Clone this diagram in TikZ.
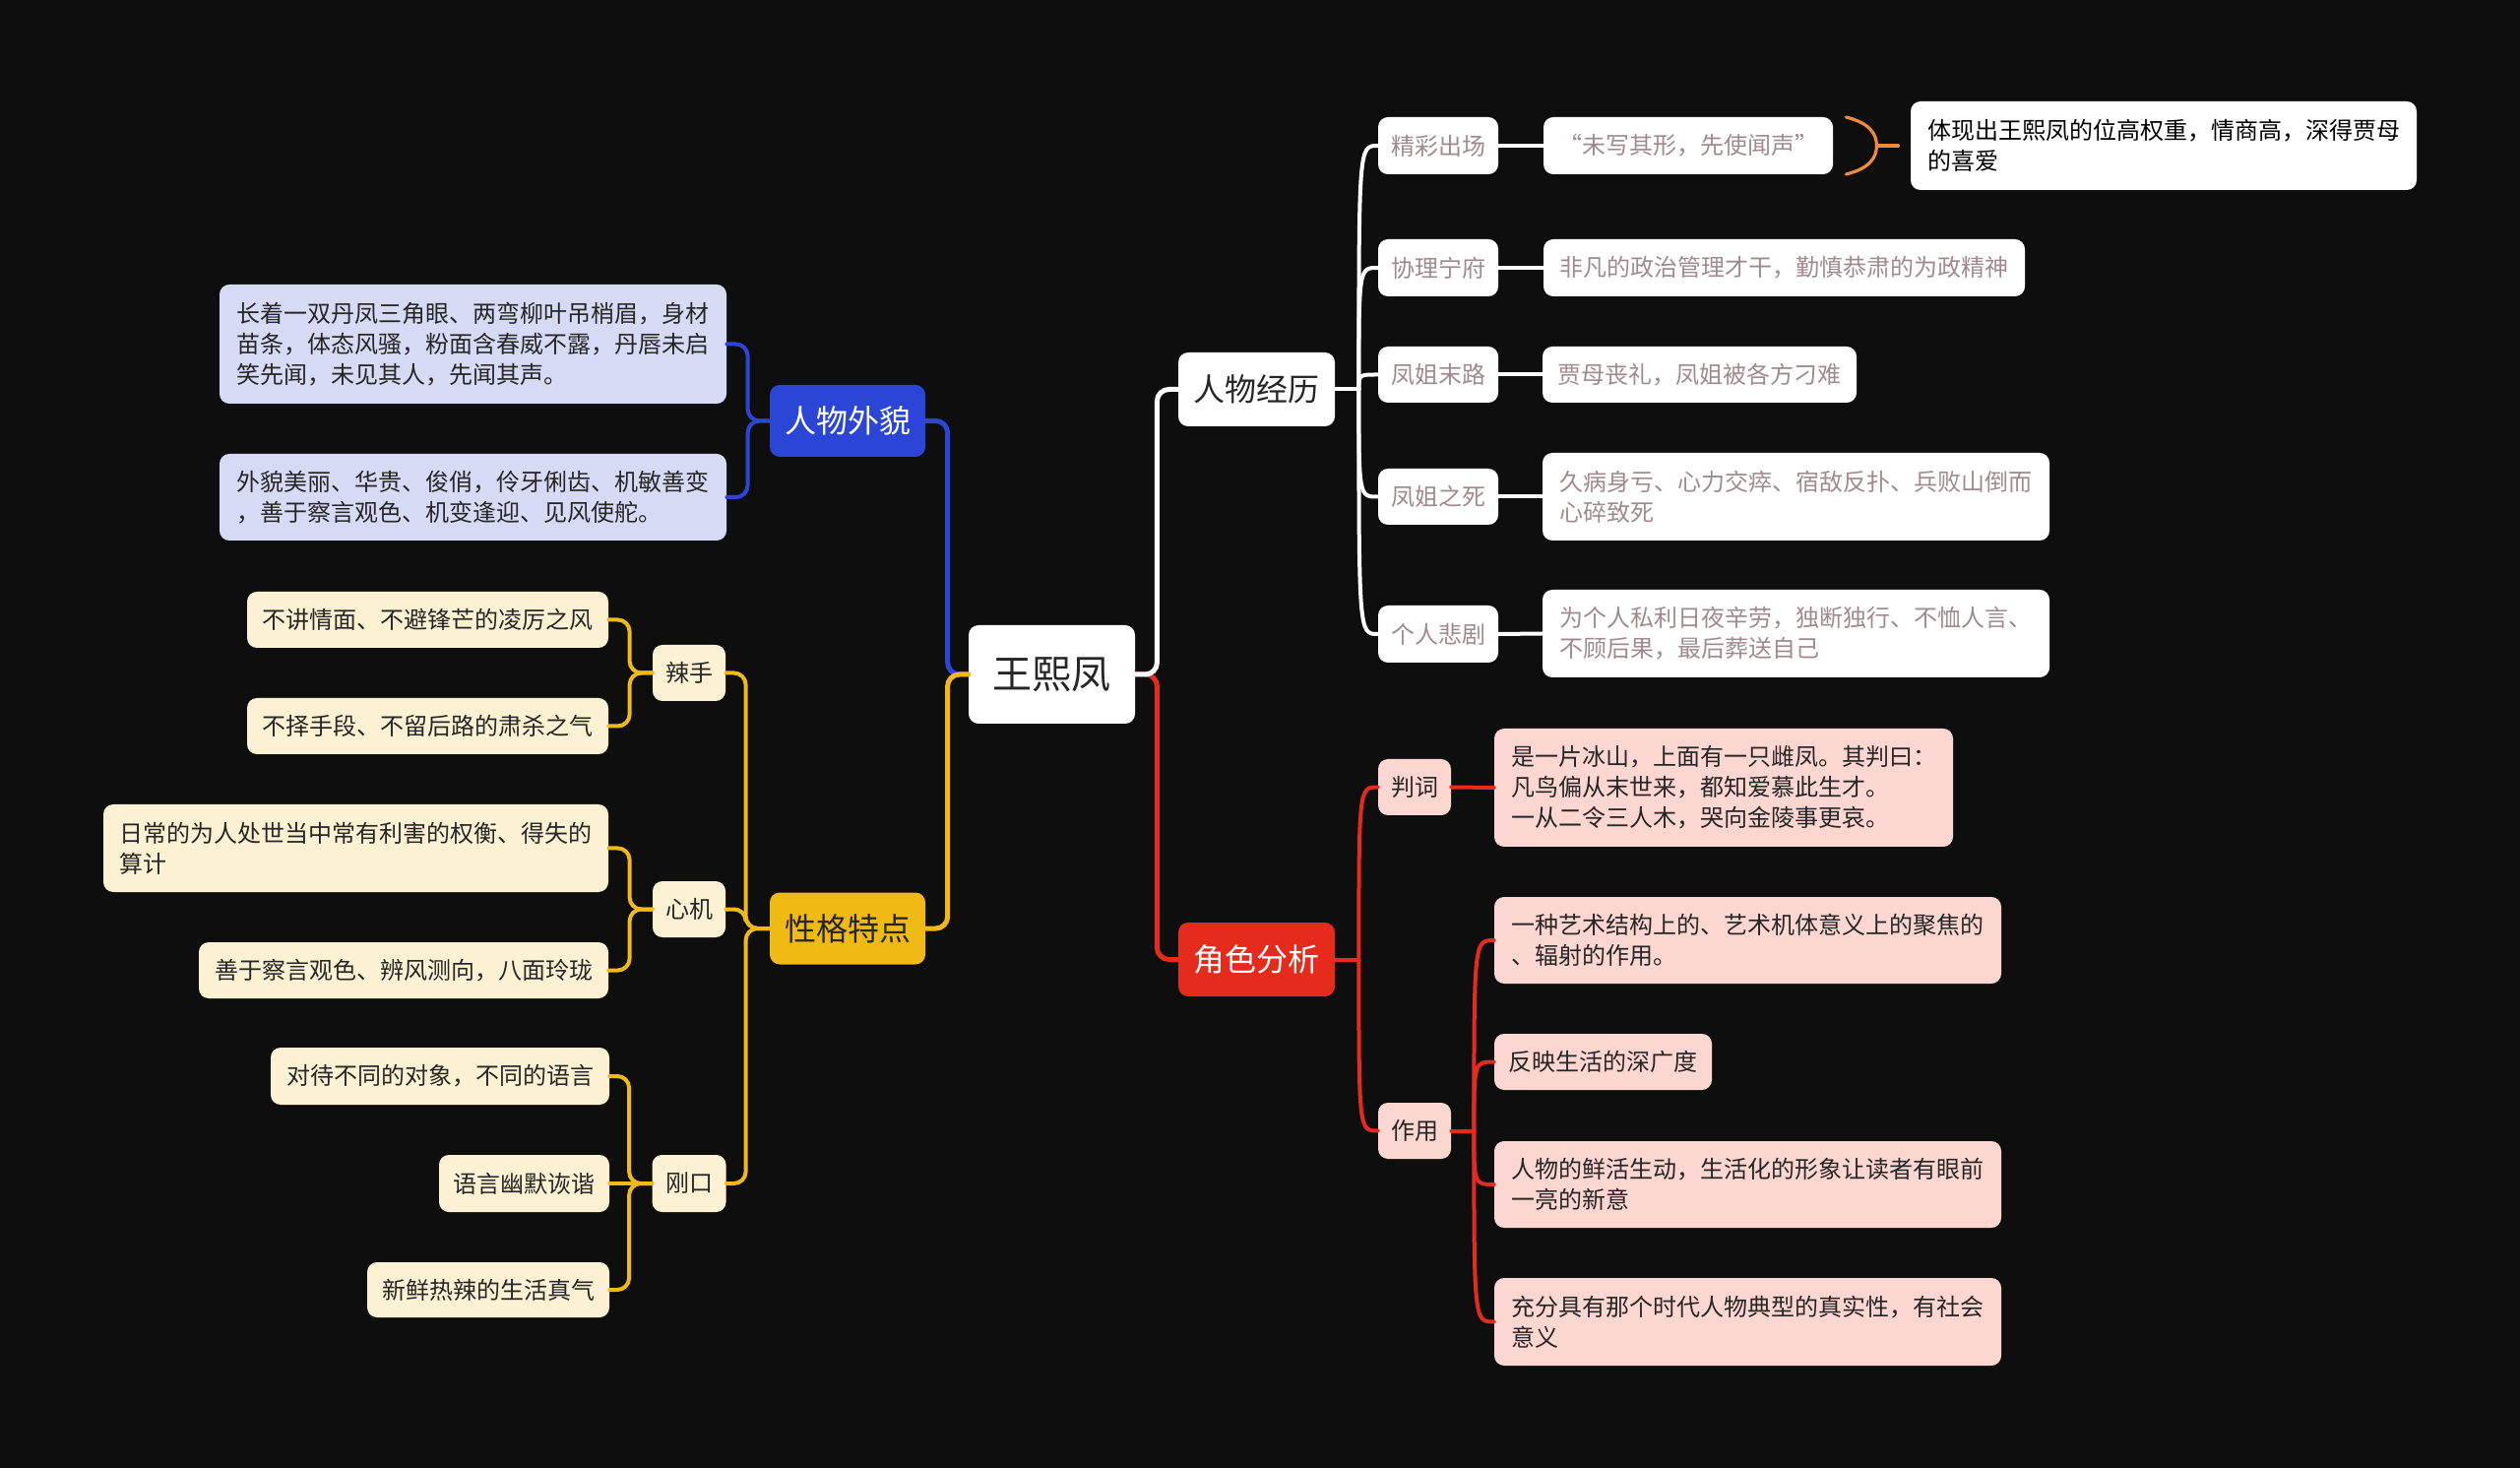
\documentclass[tikz,border=0pt]{standalone}
\usepackage{fontspec}
\newfontfamily\cjk{Noto Sans CJK SC}
\usetikzlibrary{calc}
\definecolor{bg}{HTML}{0E0E0E}
\definecolor{cblue}{HTML}{2B45D6}
\definecolor{cyel}{HTML}{F0B914}
\definecolor{cred}{HTML}{E52B1B}
\definecolor{cream}{HTML}{FCF1D3}
\definecolor{lav}{HTML}{D7DAF5}
\definecolor{cpink}{HTML}{FCD6D0}
\definecolor{mauve}{HTML}{A08A8E}
\definecolor{ink}{HTML}{262626}
\definecolor{corange}{HTML}{F08A3C}
\begin{document}
\begin{tikzpicture}[x=0.5pt,y=-0.5pt,
  base/.style={rounded corners=5pt, inner sep=0pt, align=left, text=ink,
    font=\cjk\fontsize{12}{15.5}\selectfont},
  boxsize/.style 2 args={minimum width=#1, minimum height=#2},
  centre/.style={base, fill=white, font=\cjk\fontsize{20}{24}\selectfont},
  mainw/.style={base, fill=white, font=\cjk\fontsize{16}{20}\selectfont},
  mainr/.style={base, fill=cred, text=white, font=\cjk\fontsize{16}{20}\selectfont},
  mainb/.style={base, fill=cblue, text=white, font=\cjk\fontsize{16}{20}\selectfont},
  mainy/.style={base, fill=cyel, text=ink, font=\cjk\fontsize{16}{20}\selectfont},
  lavbox/.style={base, fill=lav},
  creambox/.style={base, fill=cream},
  pinkbox/.style={base, fill=cpink},
  whitebox/.style={base, fill=white, text=mauve},
  inkbox/.style={base, fill=white, text=black},
  conn/.style={line width=2pt, rounded corners=6pt, line cap=round},
  bl/.style={conn, draw=cblue},
  yl/.style={conn, draw=cyel},
  rl/.style={conn, draw=cred},
  wl/.style={conn, draw=white},
  thick main/.style={line width=2.5pt},
  bracestyle/.style={draw=corange, line width=1.6pt, line cap=round}
]
\fill[bg] (0,0) rectangle (2560,1491);

% centre and main branches
\node[centre, boxsize={84.5pt}{50pt}] (wxf) at (1068.5,685) {王熙凤};
\node[mainw, boxsize={79.5pt}{37.5pt}] (rwl) at (1276.5,395.5) {人物经历};
\node[mainr, boxsize={79.5pt}{37.5pt}] (jsfx) at (1276.5,974.5) {角色分析};
\node[mainb, boxsize={79pt}{36.5pt}] (rwwm) at (861,427.5) {人物外貌};
\node[mainy, boxsize={79pt}{36.5pt}] (xgtd) at (861,943) {性格特点};

% appearance
\node[lavbox, boxsize={257.5pt}{60.5pt}] (a1) at (480.5,349.5) {长着一双丹凤三角眼、两弯柳叶吊梢眉，身材\\苗条，体态风骚，粉面含春威不露，丹唇未启\\笑先闻，未见其人，先闻其声。};
\node[lavbox, boxsize={257.5pt}{44pt}] (a2) at (480.5,505) {外貌美丽、华贵、俊俏，伶牙俐齿、机敏善变\\，善于察言观色、机变逢迎、见风使舵。};

% character
\node[creambox, boxsize={37pt}{28.5pt}] (ls) at (700,683.5) {辣手};
\node[creambox, boxsize={37pt}{28.5pt}] (xj) at (700,923.5) {心机};
\node[creambox, boxsize={37.5pt}{29pt}] (gk) at (700,1202) {刚口};
\node[creambox, boxsize={183.5pt}{28.5pt}] (l1) at (434.5,629.5) {不讲情面、不避锋芒的凌厉之风};
\node[creambox, boxsize={183.5pt}{28.5pt}] (l2) at (434.5,737.5) {不择手段、不留后路的肃杀之气};
\node[creambox, boxsize={256.5pt}{44.5pt}] (x1) at (361.5,861.5) {日常的为人处世当中常有利害的权衡、得失的\\算计};
\node[creambox, boxsize={208pt}{28.5pt}] (x2) at (410,985.5) {善于察言观色、辨风测向，八面玲珑};
\node[creambox, boxsize={172pt}{29pt}] (g1) at (447,1093) {对待不同的对象，不同的语言};
\node[creambox, boxsize={86.5pt}{29pt}] (g2) at (532.5,1202) {语言幽默诙谐};
\node[creambox, boxsize={123pt}{28pt}] (g3) at (496,1310) {新鲜热辣的生活真气};

% experiences
\node[whitebox, boxsize={61pt}{29pt}] (r1) at (1461,148) {精彩出场};
\node[whitebox, boxsize={147pt}{29pt}] (r1d) at (1715,148) {“未写其形，先使闻声”};
\node[inkbox, boxsize={257pt}{45pt}] (r1e) at (2198,148) {体现出王熙凤的位高权重，情商高，深得贾母\\的喜爱};
\node[whitebox, boxsize={61pt}{29pt}] (r2) at (1461,272) {协理宁府};
\node[whitebox, boxsize={244.5pt}{29pt}] (r2d) at (1812.5,272) {非凡的政治管理才干，勤慎恭肃的为政精神};
\node[whitebox, boxsize={61pt}{28.5pt}] (r3) at (1461,380.5) {凤姐末路};
\node[whitebox, boxsize={159.5pt}{28.5pt}] (r3d) at (1726.5,380.5) {贾母丧礼，凤姐被各方刁难};
\node[whitebox, boxsize={61pt}{28.5pt}] (r4) at (1461,504.5) {凤姐之死};
\node[whitebox, boxsize={257.5pt}{44.5pt}] (r4d) at (1824.5,504.5) {久病身亏、心力交瘁、宿敌反扑、兵败山倒而\\心碎致死};
\node[whitebox, boxsize={61pt}{29pt}] (r5) at (1461,644) {个人悲剧};
\node[whitebox, boxsize={257.5pt}{44.5pt}] (r5d) at (1824.5,643.5) {为个人私利日夜辛劳，独断独行、不恤人言、\\不顾后果，最后葬送自己};

% analysis
\node[pinkbox, boxsize={37pt}{28.5pt}] (pc) at (1437,799.5) {判词};
\node[pinkbox, boxsize={233pt}{60pt}] (pcd) at (1751,800) {是一片冰山，上面有一只雌凤。其判曰：\\凡鸟偏从末世来，都知爱慕此生才。\\一从二令三人木，哭向金陵事更哀。};
\node[pinkbox, boxsize={37pt}{28.5pt}] (zy) at (1437,1148.5) {作用};
\node[pinkbox, boxsize={257.5pt}{44pt}] (z1) at (1775.5,955) {一种艺术结构上的、艺术机体意义上的聚焦的\\、辐射的作用。};
\node[pinkbox, boxsize={110.5pt}{28.5pt}] (z2) at (1628.5,1078.5) {反映生活的深广度};
\node[pinkbox, boxsize={257.5pt}{44pt}] (z3) at (1775.5,1203) {人物的鲜活生动，生活化的形象让读者有眼前\\一亮的新意};
\node[pinkbox, boxsize={257.5pt}{44.5pt}] (z4) at (1775.5,1342.5) {充分具有那个时代人物典型的真实性，有社会\\意义};

% main connectors
\draw[bl, thick main] (wxf.west) -- ++(-21,0) |- (rwwm.east);
\draw[yl, thick main] (wxf.west) -- ++(-21,0) |- (xgtd.east);
\draw[rl, thick main] (wxf.east) -- ++(22,0) |- (jsfx.west);
\draw[wl, thick main] (wxf.east) -- ++(22,0) |- (rwl.west);

% appearance connectors
\draw[bl] (rwwm.west) -- ++(-22,0) |- (a1.east);
\draw[bl] (rwwm.west) -- ++(-22,0) |- (a2.east);

% character connectors
\draw[yl] (xgtd.west) -- ++(-24,0) |- (ls.east);
\draw[yl] (xgtd.west) -- ++(-24,0) |- (xj.east);
\draw[yl] (xgtd.west) -- ++(-24,0) |- (gk.east);
\draw[yl] (ls.west) -- ++(-23,0) |- (l1.east);
\draw[yl] (ls.west) -- ++(-23,0) |- (l2.east);
\draw[yl] (xj.west) -- ++(-23,0) |- (x1.east);
\draw[yl] (xj.west) -- ++(-23,0) |- (x2.east);
\draw[yl] (gk.west) -- ++(-23,0) |- (g1.east);
\draw[yl] (gk.west) -- (g2.east);
\draw[yl] (gk.west) -- ++(-23,0) |- (g3.east);

% experience connectors
\coordinate (wsp) at ($(rwl.east)+(24,0)$);
\draw[wl] (rwl.east) -- (wsp);
\foreach \c in {r1,r2,r3,r4,r5}{
  \draw[wl] (wsp) .. controls (wsp |- \c.west) .. (\c.west);
}
\draw[wl] (r1.east) -- (r1d.west);
\draw[wl] (r2.east) -- (r2d.west);
\draw[wl] (r3.east) -- (r3d.west);
\draw[wl] (r4.east) -- (r4d.west);
\draw[wl] (r5.east) -- (r5d.west);

% brace
\coordinate (bt) at ($(r1d.east)+(13,-29)$);
\coordinate (bm) at ($(r1d.east)+(44,0)$);
\coordinate (bb) at ($(r1d.east)+(13,29)$);
\coordinate (be) at ($(r1d.east)+(66,0)$);
\draw[bracestyle] (bt) .. controls ($(bt)+(24,6)$) and ($(bm)+(0,-12)$) .. (bm)
  .. controls ($(bm)+(0,12)$) and ($(bb)+(24,-6)$) .. (bb);
\draw[bracestyle] (bm) -- (be);

% analysis connectors
\coordinate (rsp) at ($(jsfx.east)+(24,0)$);
\draw[rl] (jsfx.east) -- (rsp);
\draw[rl] (rsp) .. controls (rsp |- pc.west) .. (pc.west);
\draw[rl] (rsp) .. controls (rsp |- zy.west) .. (zy.west);
\draw[rl] (pc.east) -- (pcd.west);
\coordinate (zsp) at ($(zy.east)+(23,0)$);
\draw[rl] (zy.east) -- (zsp);
\foreach \c in {z1,z2,z3,z4}{
  \draw[rl] (zsp) .. controls (zsp |- \c.west) .. (\c.west);
}
\end{tikzpicture}
\end{document}
